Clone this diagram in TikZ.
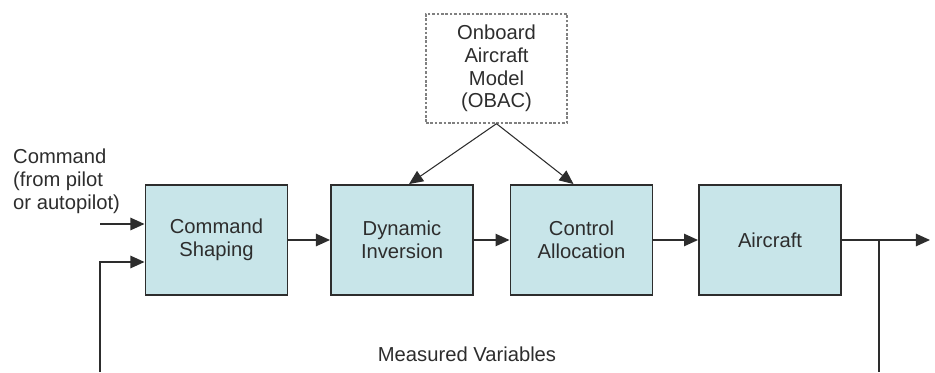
\documentclass[tikz,border=0pt]{standalone}
\usepackage{fontspec}
\setmainfont{Liberation Sans}
\usetikzlibrary{arrows.meta}
\definecolor{blockfill}{RGB}{200,229,233}
\definecolor{inkgray}{RGB}{45,45,45}
\tikzset{
	block/.style={draw=inkgray, line width=1.1pt, fill=blockfill, align=center,
		minimum width=2.84cm, minimum height=2.2cm, text=inkgray},
	modelbox/.style={draw=gray, line width=0.8pt, dash pattern=on 1.5pt off 1pt,
		align=center, minimum width=2.82cm, minimum height=2.18cm, text=inkgray},
	sig/.style={->, line width=1pt, draw=inkgray},
	link/.style={->, line width=0.6pt, draw=inkgray}
}
\begin{document}
\begin{tikzpicture}[x=0.02cm, y=0.02cm, >={Triangle[length=8pt,width=7pt]},
	font=\fontsize{11.5}{13}\selectfont]
		\useasboundingbox (0,0) rectangle (935,372);
		
		% Blocks of the loop
		\node[block] (cs) at (216.5,132) {Command\\Shaping};
		\node[block] (di) at (402,132) {Dynamic\\Inversion};
		\node[block] (ca) at (581.5,132) {Control\\Allocation};
		\node[block] (ac) at (770,132) {Aircraft};
		
		% Onboard model
		\node[modelbox] (obac) at (496.5,303.5) {Onboard\\Aircraft\\Model\\(OBAC)};
		
		% Labels
		\node[anchor=west, align=left, text=inkgray] (cmdlabel) at (7,191) {Command\\(from pilot\\or autopilot)};
		\node[text=inkgray] (measlabel) at (467,18) {Measured Variables};
		
		% Free ends
		\coordinate (cmdin) at (100,148);
		\coordinate (fbin) at (100,110);
		\coordinate (fbleft) at (100,0);
		\coordinate (tap) at (879,132);
		\coordinate (fbright) at (879,0);
		\coordinate (out) at (930,132);
		
		% Forward path
		\draw[sig] (cmdin) -- (cmdin -| cs.west);
		\draw[sig] (cs.east) -- (di.west);
		\draw[sig] (di.east) -- (ca.west);
		\draw[sig] (ca.east) -- (ac.west);
		\draw[sig] (ac.east) -- (out);
		
		% Model outputs
		\draw[link] (obac.south) -- ([xshift=0.14cm]di.north);
		\draw[link] (obac.south) -- ([xshift=-0.16cm]ca.north);
		
		% Feedback
		\draw[line width=1pt, draw=inkgray] (tap) -- (fbright);
		\draw[sig] (fbleft) -- (fbin) -- (fbin -| cs.west);
	\end{tikzpicture}
\end{document}
